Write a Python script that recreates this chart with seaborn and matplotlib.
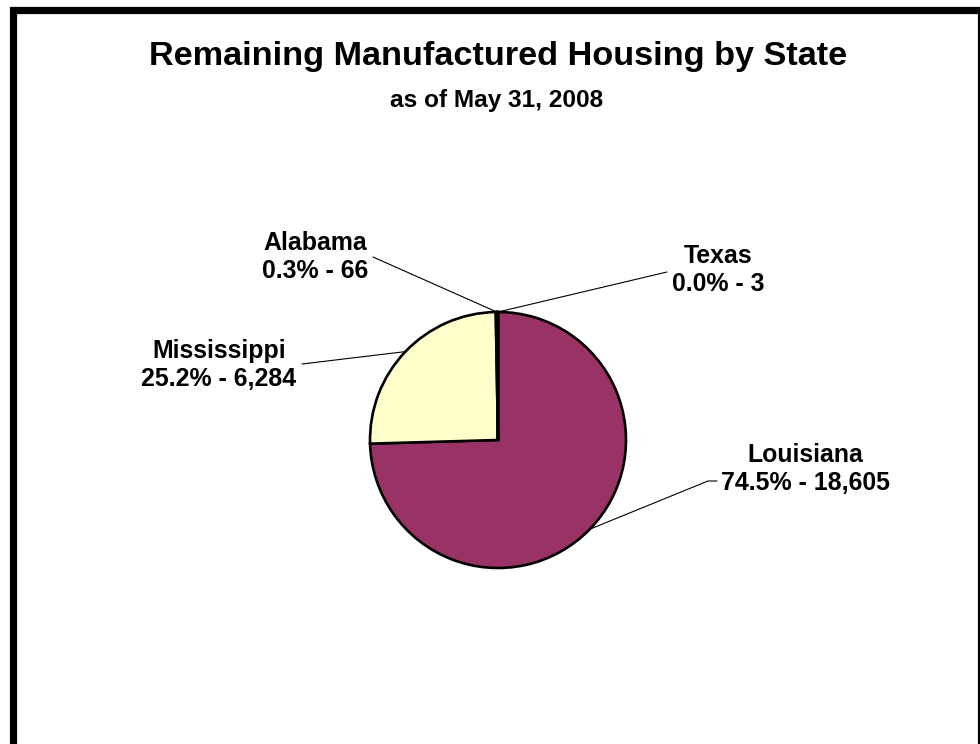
import matplotlib
matplotlib.use("Agg")
import matplotlib.pyplot as plt
import seaborn as sns
import numpy as np
from matplotlib.patches import Rectangle
from matplotlib.lines import Line2D

# ---- data ----
states = ["Louisiana", "Mississippi", "Alabama", "Texas"]
units = [18605, 6284, 66, 3]
colors = ["#993366", "#FFFFCC", "#CCFFFF", "#660066"]
title = "Remaining Manufactured Housing by State"
subtitle = "as of May 31, 2008"

sns.set_theme(style="white")
plt.rcParams["font.family"] = ["Liberation Sans", "DejaVu Sans"]

W, H = 980, 744
fig = plt.figure(figsize=(W / 100, H / 100), dpi=100)
fig.patch.set_facecolor("white")

def fx(x):
    return x / W

def fy(y):
    return 1 - y / H

# pie axes: center (498,440), radius 128 px
cx, cy, r = 498, 440, 128
ax = fig.add_axes([fx(cx - r), fy(cy + r), 2 * r / W, 2 * r / H])
wedges, _ = ax.pie(units, colors=colors, startangle=90, counterclock=False,
                   radius=1, wedgeprops=dict(edgecolor="black", linewidth=1.9))
ax.set_xlim(-1, 1)
ax.set_ylim(-1, 1)
ax.set_aspect("equal")
ax.axis("off")

total = sum(units)
labels = [f"{s}\n{v / total * 100:.1f}% - {v:,}" for s, v in zip(states, units)]

# label placement (pixel coords of text centre) and leader-line anchor points
label_pos = {"Louisiana": (805, 469), "Mississippi": (219, 365),
             "Alabama": (315, 257), "Texas": (718, 270)}
line_pts = {"Louisiana": [(708, 481), (717, 481)], "Mississippi": [(302, 364)],
            "Alabama": [(373, 257)], "Texas": [(667, 272)]}

fig.canvas.draw()
for w, s, lab in zip(wedges, states, labels):
    mid = np.deg2rad((w.theta1 + w.theta2) / 2)
    p = ax.transData.transform((np.cos(mid), np.sin(mid)))
    pf = fig.transFigure.inverted().transform(p)
    xs = [pf[0]] + [fx(q[0]) for q in line_pts[s]]
    ys = [pf[1]] + [fy(q[1]) for q in line_pts[s]]
    fig.add_artist(Line2D(xs, ys, color="black", linewidth=0.8,
                          transform=fig.transFigure))
    lx, ly = label_pos[s]
    fig.text(fx(lx), fy(ly), lab, ha="center", va="center", ma="center",
             fontsize=17.9, fontweight="bold", color="black", linespacing=1.2)

fig.text(fx(498), fy(57), title, ha="center", va="center",
         fontsize=24.7, fontweight="bold", color="black")
fig.text(fx(497), fy(100), subtitle, ha="center", va="center",
         fontsize=17.6, fontweight="bold", color="black")

# outer frame (bottom edge lies outside the image)
rect = Rectangle((fx(12.5), fy(780)), fx(980.5 - 12.5), fy(9.5) - fy(780),
                 transform=fig.transFigure, fill=False, edgecolor="black",
                 linewidth=5.2, clip_on=False)
fig.add_artist(rect)

fig.savefig("out.png", dpi=100, facecolor="white")
